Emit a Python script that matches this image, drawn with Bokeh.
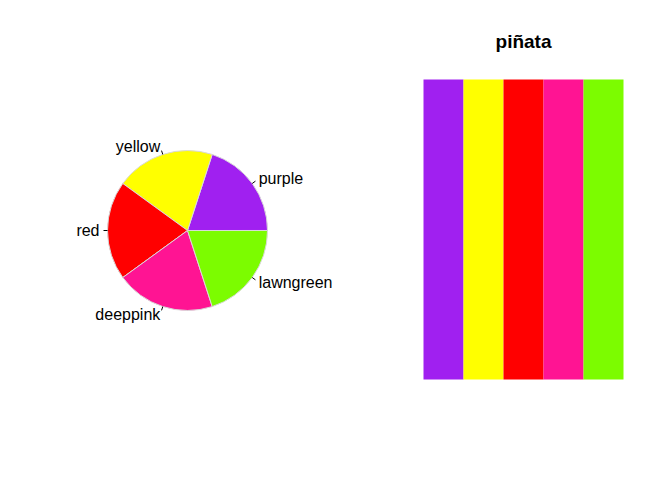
import numpy as np
from bokeh.plotting import figure
from bokeh.layouts import row
from bokeh.models import Range1d, ColumnDataSource
from bokeh.core.properties import value
from bokeh.embed import file_html
from bokeh.resources import INLINE

# data
labels = ["purple", "yellow", "red", "deeppink", "lawngreen"]
colors = ["#A020F0", "#FFFF00", "#FF0000", "#FF1493", "#7CFC00"]
slice_values = [1, 1, 1, 1, 1]
title_text = "piñata"

FONT = "Liberation Sans"

def clean(p):
    p.axis.visible = False
    p.xgrid.visible = False
    p.ygrid.visible = False
    p.outline_line_color = None
    p.min_border = 0
    p.min_border_left = 0
    p.min_border_right = 0
    p.min_border_top = 0
    p.min_border_bottom = 0
    p.background_fill_color = "white"
    p.border_fill_color = "white"

# ---------- pie ----------
vals = np.array(slice_values, dtype=float)
cum = np.concatenate([[0], np.cumsum(vals)]) / vals.sum() * 2 * np.pi
starts = cum[:-1]
ends = cum[1:]
mids = (starts + ends) / 2

scale = 80.0
W, H = 372, 464
cx, cy = 187.0, H - 230.0
p1 = figure(width=W, height=H, output_backend="svg", toolbar_location=None,
            x_range=Range1d(-cx / scale, (W - cx) / scale),
            y_range=Range1d(-cy / scale, (H - cy) / scale))
clean(p1)

src = ColumnDataSource(dict(start=starts, end=ends, color=colors, label=labels))
p1.wedge(x=0, y=0, radius=1.0, radius_units="data", start_angle="start", end_angle="end",
         fill_color="color", line_color="#d9d9d9", line_width=1, source=src)

x0 = np.cos(mids) * 1.0
y0 = np.sin(mids) * 1.0
x1 = np.cos(mids) * 1.05
y1 = np.sin(mids) * 1.05
p1.segment(x0=x0, y0=y0, x1=x1, y1=y1, line_color="black", line_width=1)

lx = np.cos(mids) * 1.1
ly = np.sin(mids) * 1.1
align = ["left" if c > 0 else "right" for c in np.cos(mids)]
tsrc = ColumnDataSource(dict(x=lx, y=ly, text=labels, align=align))
p1.text(x="x", y="y", text="text", text_align="align", text_baseline="middle",
        text_font=value(FONT), text_font_size="16px", text_color="black", source=tsrc)

# ---------- swatch ----------
W2 = 656 - W
px_x = 40.0
px_y = 300.0
left_px = 423.0 - W
bottom_px = H - 379.0
x_start = 0.5 - left_px / px_x
y_start = -bottom_px / px_y
p2 = figure(width=W2, height=H, output_backend="svg", toolbar_location=None,
            x_range=Range1d(x_start, x_start + W2 / px_x),
            y_range=Range1d(y_start, y_start + H / px_y))
clean(p2)
idx = list(range(1, len(colors) + 1))
p2.vbar(x=idx, width=1.0, bottom=0, top=1, fill_color=colors, line_color=None)
p2.text(x=[(len(colors) + 1) / 2], y=[y_start + (H - 41.0) / px_y], text=[title_text],
        text_align="center", text_baseline="middle", text_font=value(FONT),
        text_font_size="19px", text_font_style="bold", text_color="black")

layout = row(p1, p2, spacing=0)
open("out.html", "w").write(file_html(layout, INLINE))
